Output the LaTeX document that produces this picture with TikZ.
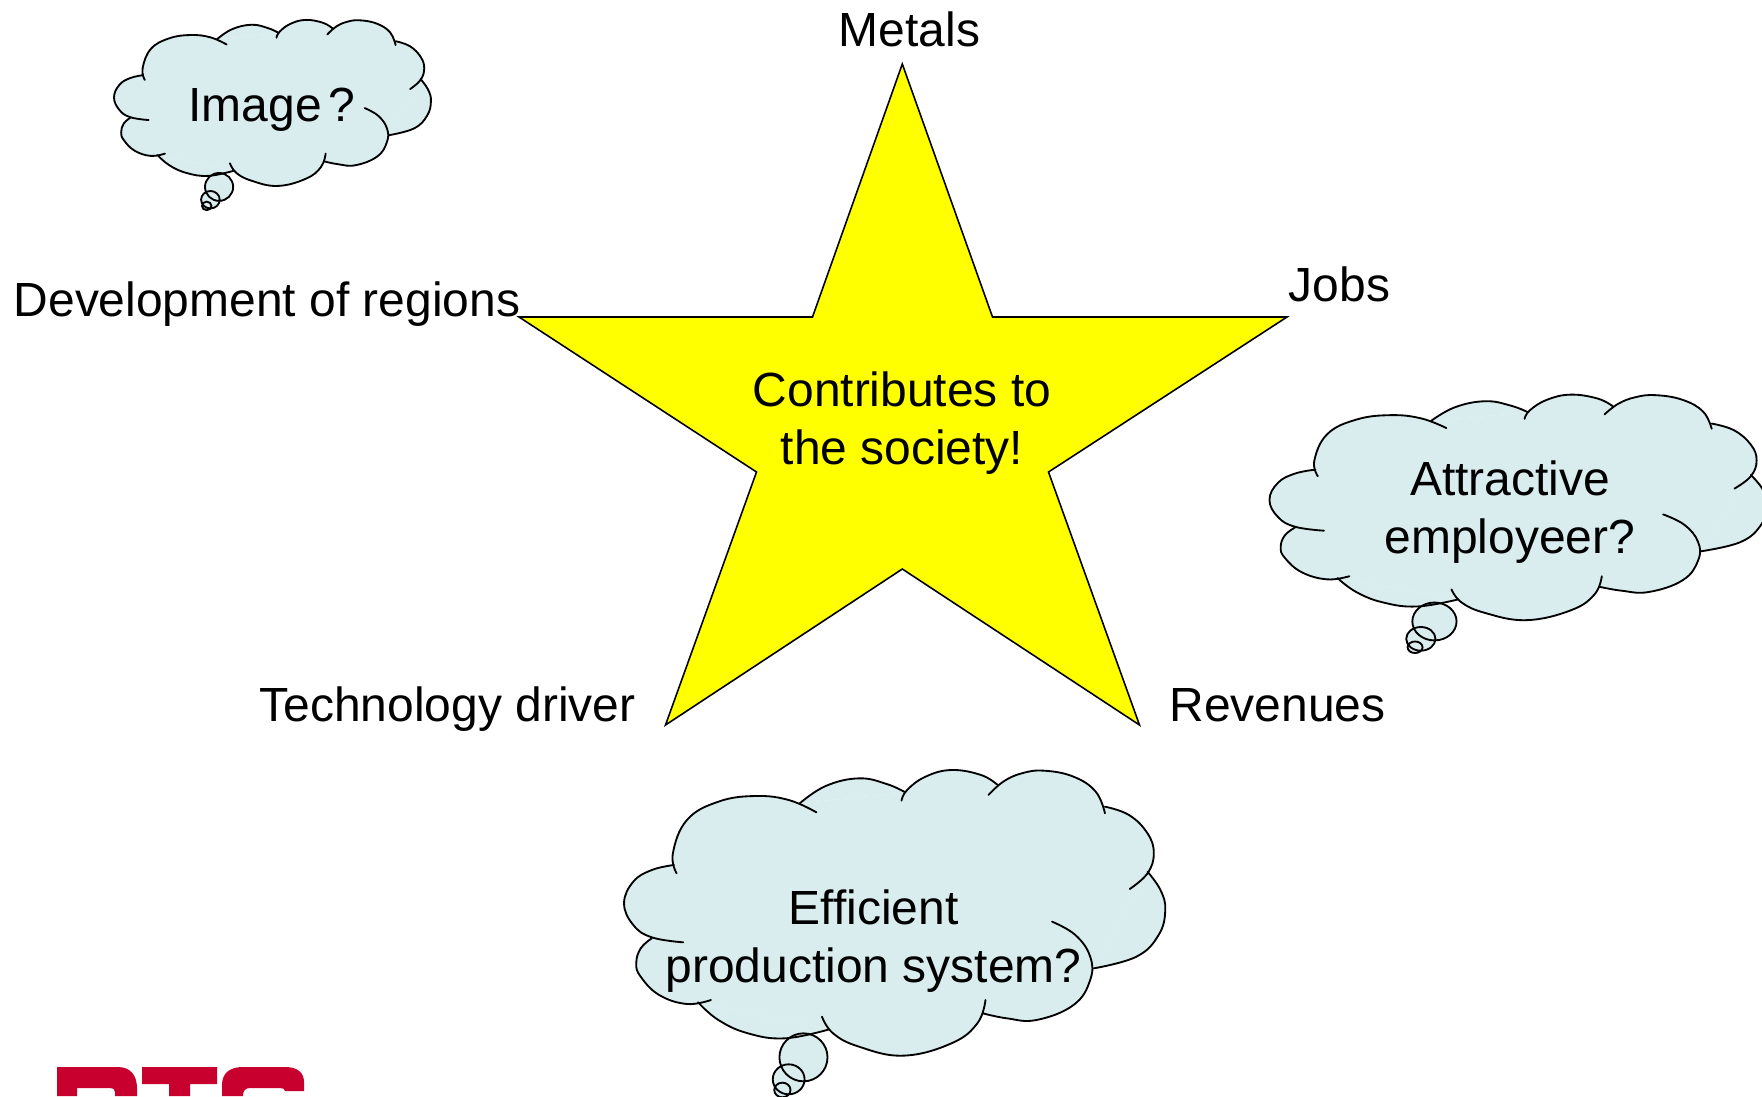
\documentclass[tikz,border=0pt]{standalone}
\usepackage{fontspec}
\setmainfont{Liberation Sans}
\definecolor{cloudblue}{HTML}{D9ECEE}
\definecolor{logored}{HTML}{C8002D}
\definecolor{staryellow}{HTML}{FFFF00}
\tikzset{
  starshape/.style={draw=black,line width=0.9pt,fill=staryellow,line join=miter},
  lobe/.style={draw=black,line width=1.05pt,line cap=round},
  bubble/.style={draw=black,line width=1.05pt},
  label/.style={font=\fontsize{27.3pt}{33pt}\selectfont,text=black,inner sep=0pt,outer sep=0pt,align=center},
}
\newcommand{\cloudshape}{%
 \fill[cloudblue] (207,370)--(540,160)--(825,127)--(1075,105)--(1365,170)--(1480,365)--(1335,655)--(1035,790)--(620,838)--(265,757)--(140,565)--(200,345)--cycle;
 \foreach \p in {0,1}{%
  \ifnum\p=0 \tikzset{cl/.style={fill=cloudblue,draw=none}}\else\tikzset{cl/.style={lobe}}\fi
  \path[cl] plot[smooth,tension=0.7] coordinates {(207,370)(197,310)(235,210)(320,155)(420,138)(510,150)(585,187)};
  \path[cl] plot[smooth,tension=0.7] coordinates {(540,160)(610,108)(700,85)(775,102)(825,127)};
  \path[cl] plot[smooth,tension=0.7] coordinates {(815,152)(830,120)(880,80)(950,60)(1030,75)(1075,105)};
  \path[cl] plot[smooth,tension=0.7] coordinates {(1050,135)(1090,95)(1140,70)(1200,62)(1280,80)(1340,125)(1365,190)};
  \path[cl] plot[smooth,tension=0.7] coordinates {(1365,170)(1430,195)(1480,250)(1497,310)(1480,370)(1432,417)};
  \path[cl] plot[smooth,tension=0.7] coordinates {(1480,365)(1515,420)(1528,480)(1510,555)(1450,620)(1335,655)};
  \path[cl] plot[smooth,tension=0.7] coordinates {(1222,515)(1285,555)(1325,620)(1325,690)(1280,765)(1180,810)(1100,805)(1035,790)};
  \path[cl] plot[smooth,tension=0.7] coordinates {(1042,750)(1020,820)(950,880)(820,917)(700,890)(630,850)(600,800)};
  \path[cl] plot[smooth,tension=0.7] coordinates {(620,838)(500,865)(400,850)(320,810)(265,757)};
  \path[cl] plot[smooth,tension=0.7] coordinates {(300,750)(235,762)(160,735)(110,680)(98,640)(110,595)(140,565)};
  \path[cl] plot[smooth,tension=0.7] coordinates {(225,577)(140,562)(90,525)(65,460)(90,395)(140,360)(200,345)};
  \ifnum\p=0
   \fill[cloudblue] (550,922) ellipse (65 and 72) (510,988) ellipse (43 and 45) (493,1020) ellipse (22 and 22);
  \else
   \draw[bubble] (550,922) ellipse (65 and 72) (510,988) ellipse (43 and 45) (493,1020) ellipse (22 and 22);
  \fi
 }%
}
\begin{document}
\begin{tikzpicture}[x=0.02cm,y=-0.02cm]
\clip (0,0) rectangle (1762,1096);
\fill[white] (0,0) rectangle (1762,1096);
% star
\draw[starshape] (902.3,64)--(992.5,317)--(1287,317)--(1048.5,472)--(1139.5,725)--(902.3,569)--(665.5,725)--(756.5,472)--(519,317)--(812.5,317)--cycle;
% clouds: efficient, attractive, image
\begin{scope}[shift={(600,750)},x=0.0074cm,y=-0.00667cm]
 \cloudshape
\end{scope}
\begin{scope}[shift={(1250,387)},x=0.0068cm,y=-0.00527cm]
 \begin{scope}[shift={(-7.8,-31)}]\cloudshape\end{scope}
\end{scope}
\begin{scope}[shift={(106,17)},x=0.00433cm,y=-0.00387cm]
 \begin{scope}[shift={(-28,-45)}]\cloudshape\end{scope}
\end{scope}
% logo, cut off by the lower edge
\fill[logored] (57,1096)--(57,1067)--(118,1067)..controls (130,1067) and (137,1075) .. (137,1088)--(137,1096)--(115,1096)--(115,1092)..controls (115,1089) and (113,1088) .. (110,1088)--(77,1088)--(77,1096)--cycle;
\fill[logored] (142,1067)--(217,1067)--(217,1084)--(190,1084)--(190,1096)--(169,1096)--(169,1084)--(142,1084)--cycle;
\fill[logored] (222,1096)--(222,1085)..controls (222,1073) and (230,1067) .. (243,1067)--(285,1067)..controls (298,1067) and (304,1073) .. (304,1082)--(304,1091)--(285,1091)..controls (285,1089) and (283,1088) .. (280,1088)--(250,1088)..controls (245,1088) and (243,1091) .. (243,1096)--cycle;
% labels
\node[label,anchor=base] (metals) at (909.6,46) {Metals};
\node[label,anchor=base] (jobs) at (1339.5,301) {Jobs};
\node[label,anchor=base] (regions) at (267,316) {Development of regions};
\node[label,anchor=base] (techdriver) at (447.5,721) {Technology driver};
\node[label,anchor=base] (revenues) at (1277.5,721) {Revenues};
\node[label] (contrib) at (902,423) {Contributes to\\the society!};
\node[label,anchor=base] (image) at (272,121) {Image\kern-3.5pt\ ?};
\node[label] (attract) at (1510,512.5) {Attractive\\employeer?};
\node[label] (effic) at (873.5,941.5) {Efficient\\production system?};
\end{tikzpicture}
\end{document}
